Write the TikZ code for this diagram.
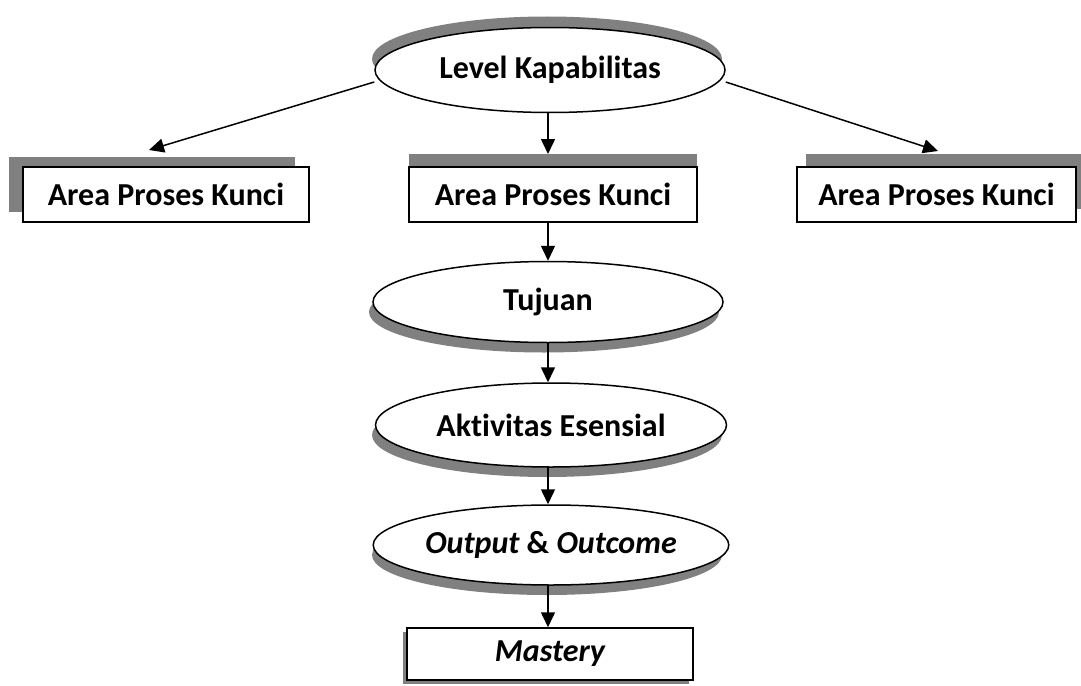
\documentclass[tikz,border=0pt]{standalone}
\usepackage{fontspec}
\setmainfont[Ligatures=NoCommon]{Carlito}
\usetikzlibrary{shapes.geometric,arrows.meta,shadows}
\begin{document}
\begin{tikzpicture}[x=1pt,y=-1pt,
  lbl/.style={font=\fontsize{32}{38}\selectfont\bfseries},
  ell/.style={ellipse,draw=black,line width=1.5pt,fill=white,inner sep=0pt,lbl},
  box/.style={rectangle,draw=black,line width=1.5pt,fill=white,inner sep=0pt,lbl},
  shad/.style={fill=black!50,draw=none},
  arr/.style={line width=1.5pt,-{Triangle[length=15pt,width=14pt]}}]
\useasboundingbox (0,0) rectangle (1081,685);
% shadows
\fill[shad] (550-3,70-11) ellipse [x radius=175, y radius=42.5];
\fill[shad] (9,157) rectangle (295,212);
\fill[shad] (409,154) rectangle (697,209);
\fill[shad] (806,154) rectangle (1085,209);
\fill[shad] (548-4,302+10) ellipse [x radius=175, y radius=40.5];
\fill[shad] (551-4,425+10) ellipse [x radius=175, y radius=42];
\fill[shad] (551-4,545+10) ellipse [x radius=175, y radius=40];
\fill[shad] (403,632) rectangle (689,684);
% nodes
\node[ell,minimum width=350,minimum height=85] (lk) at (550,70) {Level Kapabilitas};
\node[box,minimum width=286,minimum height=55] (a1) at (166,194.5) {Area Proses Kunci};
\node[box,minimum width=288,minimum height=55] (a2) at (553,194.5) {Area Proses Kunci};
\node[box,minimum width=279,minimum height=55] (a3) at (936.5,194.5) {Area Proses Kunci};
\node[ell,minimum width=350,minimum height=81] (tj) at (548,302) {Tujuan};
\node[ell,minimum width=351,minimum height=84] (ak) at (551,425) {Aktivitas Esensial};
\node[ell,minimum width=351,minimum height=80] (oo) at (551,545) {\itshape Output \upshape\& \itshape Outcome};
\node[box,minimum width=286,minimum height=52] (ms) at (550,654) {\itshape Mastery};
% connectors
\coordinate (t1) at (149,150);
\coordinate (t2) at (548,154);
\coordinate (t3) at (938,151);
\draw[arr] (lk.west) ++(0,12) -- (t1);
\draw[arr] (548,113) -- (t2);
\draw[arr] (lk.east) ++(0,12) -- (t3);
\draw[arr] (548,222) -- (tj.north);
\draw[arr] (548,343) -- (ak.north -| 548,0);
\draw[arr] (548,467) -- (oo.north -| 548,0);
\draw[arr] (548,585) -- (ms.north -| 548,0);
\end{tikzpicture}
\end{document}
